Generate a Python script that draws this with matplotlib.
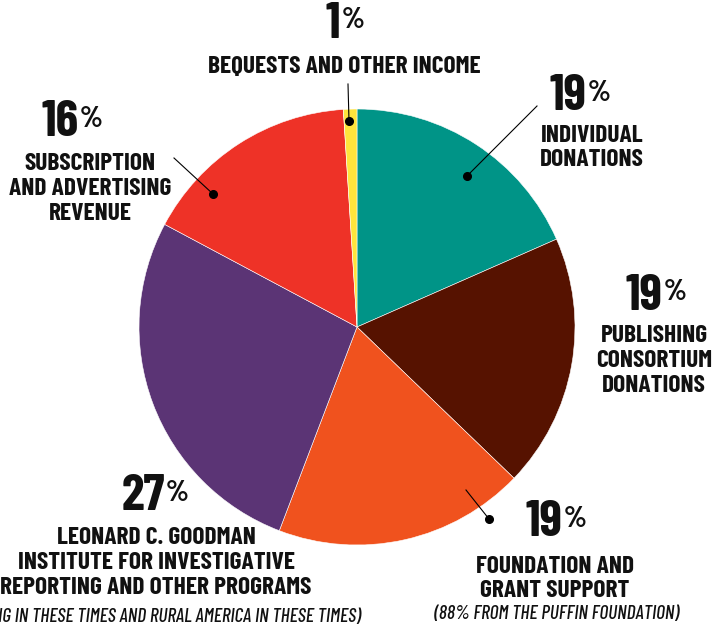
import matplotlib
matplotlib.use("Agg")
import matplotlib.pyplot as plt
from matplotlib import font_manager

W, H = 718, 631

# ---- data ----
categories = ["INDIVIDUAL\nDONATIONS",
              "PUBLISHING\nCONSORTIUM\nDONATIONS",
              "FOUNDATION AND\nGRANT SUPPORT",
              "LEONARD C. GOODMAN\nINSTITUTE FOR INVESTIGATIVE\nREPORTING AND OTHER PROGRAMS",
              "SUBSCRIPTION\nAND ADVERTISING\nREVENUE",
              "BEQUESTS AND OTHER INCOME"]
values = [18.4, 18.8, 18.6, 27.0, 16.2, 1.0]
pct_labels = ["19", "19", "19", "27", "16", "1"]
notes = ["", "", "(88% FROM THE PUFFIN FOUNDATION)",
         "(PUBLISHING IN THESE TIMES AND RURAL AMERICA IN THESE TIMES)", "", ""]
colors = ["#009487", "#561200", "#F0521E", "#5B3475", "#EE3227", "#FEE43C"]

avail = {f.name for f in font_manager.fontManager.ttflist}
fam = [f for f in ["Barlow Condensed", "Roboto Condensed", "DejaVu Sans"] if f in avail]
plt.rcParams['font.family'] = fam

fig = plt.figure(figsize=(W / 100, H / 100), dpi=100)
ax = fig.add_axes([0, 0, 1, 1])

def Y(y):
    return H - y

cx, cy, R = 357, 327, 218
ax.pie(values, colors=colors, startangle=90, counterclock=False,
       center=(cx, Y(cy)), radius=R,
       wedgeprops=dict(linewidth=0.4, edgecolor="white"))
ax.set_xlim(0, W)
ax.set_ylim(0, H)
ax.set_aspect("auto")
ax.set_position([0, 0, 1, 1])
ax.axis("off")

fig.canvas.draw()
renderer = fig.canvas.get_renderer()

def pct(x, y, num, size=37):
    # number centered together with a smaller raised '%'
    t = ax.text(x, Y(y), num, fontsize=size, fontweight=700,
                ha="left", va="center", color="#111111")
    p = ax.text(x, Y(y), "%", fontsize=size * 0.58, fontweight=700,
                ha="left", va="top", color="#111111")
    bt = t.get_window_extent(renderer)
    bp = p.get_window_extent(renderer)
    total = bt.width + 1 + bp.width
    left = x - total / 2
    t.set_position((left, Y(y)))
    top = Y(y) + bt.height * 0.38
    p.set_position((left + bt.width + 1, top))

def lbl(x, y, s, size=18.3, italic=False):
    ax.text(x, Y(y), s, fontsize=size, fontweight=500 if italic else 700,
            style="italic" if italic else "normal",
            ha="center", va="center", linespacing=1.15, color="#111111")

# percentages
pct(580, 97, pct_labels[0])
pct(656, 296, pct_labels[1])
pct(556, 523, pct_labels[2])
pct(155, 497, pct_labels[3])
pct(72, 123, pct_labels[4])
pct(345, 24, pct_labels[5])

# category labels
lbl(592, 148, categories[0])
lbl(654, 361, categories[1])
lbl(555, 579, categories[2])
lbl(156, 563, categories[3])
lbl(90, 189, categories[4])
lbl(344, 67, categories[5])

# notes
lbl(557, 614, notes[2], size=14, italic=True)
lbl(145, 617, notes[3], size=14, italic=True)

# leader lines and dots
leaders = [((537, 106), (467, 176)),
           ((174, 158), (213, 194)),
           ((348, 84), (349, 121)),
           ((466, 490), (489, 519))]
for (x1, y1), (x2, y2) in leaders:
    ax.plot([x1, x2], [Y(y1), Y(y2)], color="black", lw=0.8)
    ax.plot([x2], [Y(y2)], "o", color="black", markersize=5.5)

fig.savefig("out.png", dpi=100)
